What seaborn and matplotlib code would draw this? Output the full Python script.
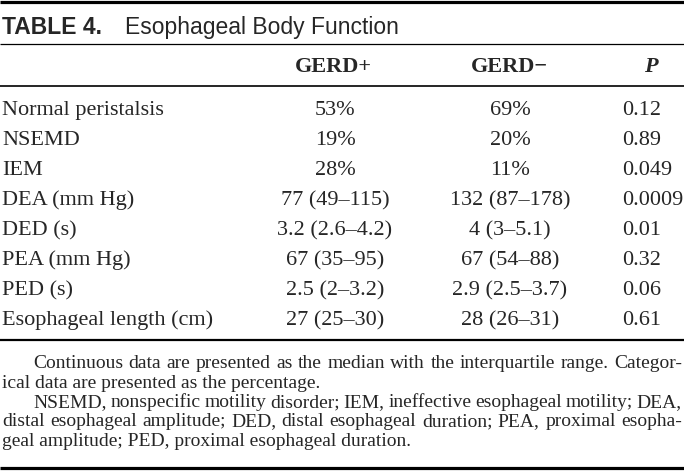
import seaborn as sns
import matplotlib.pyplot as plt

# table content
title_bold = "TABLE 4."
title_rest = "Esophageal Body Function"
col_headers = ["GERD+", "GERD\u2212", "P"]
row_labels = ["Normal peristalsis", "NSEMD", "IEM", "DEA (mm Hg)", "DED (s)",
              "PEA (mm Hg)", "PED (s)", "Esophageal length (cm)"]
gerd_pos = ["53%", "19%", "28%", "77 (49\u2013115)", "3.2 (2.6\u20134.2)",
            "67 (35\u201395)", "2.5 (2\u20133.2)", "27 (25\u201330)"]
gerd_neg = ["69%", "20%", "11%", "132 (87\u2013178)", "4 (3\u20135.1)",
            "67 (54\u201388)", "2.9 (2.5\u20133.7)", "28 (26\u201331)"]
p_values = ["0.12", "0.89", "0.049", "0.0009", "0.01", "0.32", "0.06", "0.61"]
footnotes = [
    ("Continuous data are presented as the median with the interquartile range. Categor-", True, True),
    ("ical data are presented as the percentage.", False, False),
    ("NSEMD, nonspecific motility disorder; IEM, ineffective esophageal motility; DEA,", True, True),
    ("distal esophageal amplitude; DED, distal esophageal duration; PEA, proximal esopha-", False, True),
    ("geal amplitude; PED, proximal esophageal duration.", False, False),
]

sns.set_style("white")
plt.rcParams["font.family"] = ["Liberation Serif", "DejaVu Serif"]

W, H = 684, 471
fig = plt.figure(figsize=(W / 100, H / 100), dpi=100)
ax = fig.add_axes([0, 0, 1, 1])
ax.set_xlim(0, W)
ax.set_ylim(H, 0)
ax.set_axis_off()
renderer = fig.canvas.get_renderer()

# rules
ax.hlines([1.5], 0, W, color="black", lw=2.3)
ax.hlines([44], 0, W, color="black", lw=0.9)
ax.hlines([86], 0, W, color="black", lw=1.2)
ax.hlines([340], 0, W, color="black", lw=1.6)
ax.hlines([468], 0, W, color="black", lw=2.3)

# title
sans = ["Liberation Sans", "DejaVu Sans"]
ax.text(2, 34, title_bold, family=sans, weight="bold", fontsize=16.5, va="baseline")
ax.text(125, 34, title_rest, family=sans, fontsize=16.5, va="baseline")

# header
fs = 16
ax.text(333, 72, col_headers[0], fontsize=fs, weight="bold", ha="center", va="baseline")
ax.text(509, 72, col_headers[1], fontsize=fs, weight="bold", ha="center", va="baseline")
ax.text(651, 72, col_headers[2], fontsize=fs, weight="bold", style="italic",
        ha="center", va="baseline")

# body rows
y0, dy = 115, 30
for i, lab in enumerate(row_labels):
    y = y0 + i * dy
    ax.text(2, y, lab, fontsize=fs, va="baseline")
    ax.text(335, y, gerd_pos[i], fontsize=fs, ha="center", va="baseline")
    ax.text(510, y, gerd_neg[i], fontsize=fs, ha="center", va="baseline")
    ax.text(622, y, p_values[i], fontsize=fs, ha="left", va="baseline")

# footnotes, justified
fn_fs = 14
fy0, fdy = 368, 19.5
for i, (line, indent, justify) in enumerate(footnotes):
    y = fy0 + i * fdy
    x0 = 33 if indent else 2
    if not justify:
        ax.text(x0, y, line, fontsize=fn_fs, va="baseline")
        continue
    words = line.split(" ")
    texts = [ax.text(0, y, w, fontsize=fn_fs, va="baseline") for w in words]
    widths = [t.get_window_extent(renderer).width for t in texts]
    gap = (682 - x0 - sum(widths)) / (len(words) - 1)
    x = x0
    for t, w in zip(texts, widths):
        t.set_x(x)
        x += w + gap

fig.savefig("out.png", dpi=100)
